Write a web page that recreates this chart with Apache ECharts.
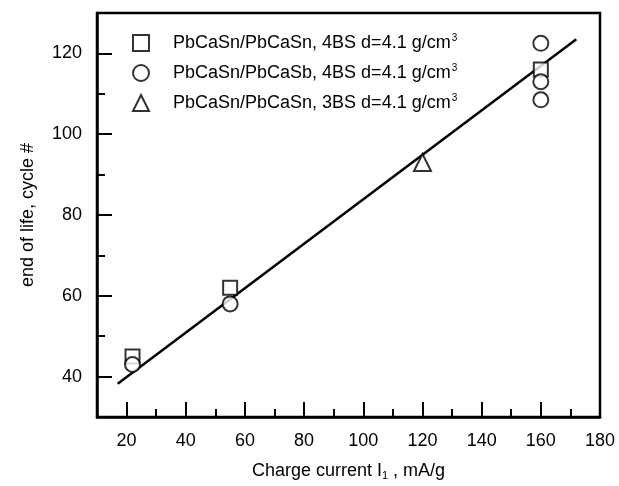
<!DOCTYPE html>
<html>
<head>
<meta charset="utf-8">
<script src="https://cdn.jsdelivr.net/npm/echarts@6/dist/echarts.min.js"></script>
<style>html,body{margin:0;padding:0;background:#fff}#container{width:619px;height:486px}</style>
</head>
<body>
<div id="container"></div>
<script>
// data
var seriesNames = ['PbCaSn/PbCaSn, 4BS d=4.1 g/cm', 'PbCaSn/PbCaSb, 4BS d=4.1 g/cm', 'PbCaSn/PbCaSn, 3BS d=4.1 g/cm'];
var squareX = [22, 55, 160];
var squareY = [45, 62, 116];
var circleX = [22, 55, 160, 160, 160];
var circleY = [43, 58, 122.5, 113, 108.5];
var triangleX = [120];
var triangleY = [93];
var fitX = [17, 172];
var fitY = [38.2, 123.5];
var xMajor = [20, 40, 60, 80, 100, 120, 140, 160, 180];
var yMajor = [40, 60, 80, 100, 120];

function pairs(xs, ys) {
    var out = [];
    for (var i = 0; i < xs.length; i++) out.push([xs[i], ys[i]]);
    return out;
}

var font = 'Liberation Sans';
var mark = {color: '#fff', borderColor: '#000', borderWidth: 2};

var myChart = echarts.init(document.getElementById('container'));
var option = {
    backgroundColor: '#fff',
    animation: false,
    textStyle: {fontFamily: font, color: '#000'},
    grid: {left: 97, right: 19, top: 13, bottom: 69, show: true, borderColor: '#000', borderWidth: 2.5, backgroundColor: 'transparent'},
    legend: {
        orient: 'vertical', left: 127, top: 28,
        itemWidth: 16, itemHeight: 16, itemGap: 11,
        data: seriesNames,
        textStyle: {
            fontFamily: font, fontSize: 18, color: '#000', padding: [0, 0, 0, 19],
            rich: {sup: {fontSize: 10, fontFamily: font, color: '#000', padding: [0, 0, 10, 1]}}
        },
        formatter: function (n) { return n + '{sup|3}'; }
    },
    xAxis: [{
        type: 'value', min: 10, max: 180, interval: 10,
        name: 'Charge current I{sub|1} , mA/g', nameLocation: 'middle', nameGap: 44,
        nameTextStyle: {fontFamily: font, fontSize: 18, color: '#000',
            rich: {sub: {fontSize: 11, fontFamily: font, color: '#000', padding: [9, 0, 0, 0]}}},
        axisLine: {show: true, lineStyle: {color: '#000', width: 2.5}},
        axisTick: {show: true, inside: true, length: 8, lineStyle: {color: '#000', width: 2}},
        axisLabel: {fontFamily: font, fontSize: 18, color: '#000', margin: 15,
            formatter: function (v) { return xMajor.indexOf(v) >= 0 ? v : ''; }},
        splitLine: {show: false}
    }, {
        type: 'value', min: 10, max: 180, position: 'bottom',
        axisLine: {show: false},
        axisTick: {show: true, inside: true, length: 15, customValues: xMajor, lineStyle: {color: '#000', width: 2}},
        axisLabel: {show: false},
        splitLine: {show: false}
    }],
    yAxis: [{
        type: 'value', min: 30, max: 130, interval: 10,
        name: 'end of life, cycle #', nameLocation: 'middle', nameGap: 60, nameRotate: 90,
        nameTextStyle: {fontFamily: font, fontSize: 18, color: '#000'},
        axisLine: {show: true, lineStyle: {color: '#000', width: 2.5}},
        axisTick: {show: true, inside: true, length: 8, lineStyle: {color: '#000', width: 2}},
        axisLabel: {fontFamily: font, fontSize: 18, color: '#000', margin: 15,
            formatter: function (v) { return yMajor.indexOf(v) >= 0 ? v : ''; }},
        splitLine: {show: false}
    }, {
        type: 'value', min: 30, max: 130, position: 'left',
        axisLine: {show: false},
        axisTick: {show: true, inside: true, length: 15, customValues: yMajor, lineStyle: {color: '#000', width: 2}},
        axisLabel: {show: false},
        splitLine: {show: false}
    }],
    series: [{
        type: 'line', data: pairs(fitX, fitY), symbol: 'none', silent: true,
        lineStyle: {color: '#000', width: 2.5}, z: 1
    }, {
        name: seriesNames[0], type: 'scatter', symbol: 'rect', symbolSize: 14,
        data: pairs(squareX, squareY), itemStyle: mark, z: 3
    }, {
        name: seriesNames[1], type: 'scatter', symbol: 'circle', symbolSize: 15,
        data: pairs(circleX, circleY), itemStyle: mark, z: 3
    }, {
        name: seriesNames[2], type: 'scatter', symbol: 'triangle', symbolSize: 17,
        data: pairs(triangleX, triangleY), itemStyle: mark, z: 3
    }]
};
myChart.setOption(option);
</script>
</body>
</html>
